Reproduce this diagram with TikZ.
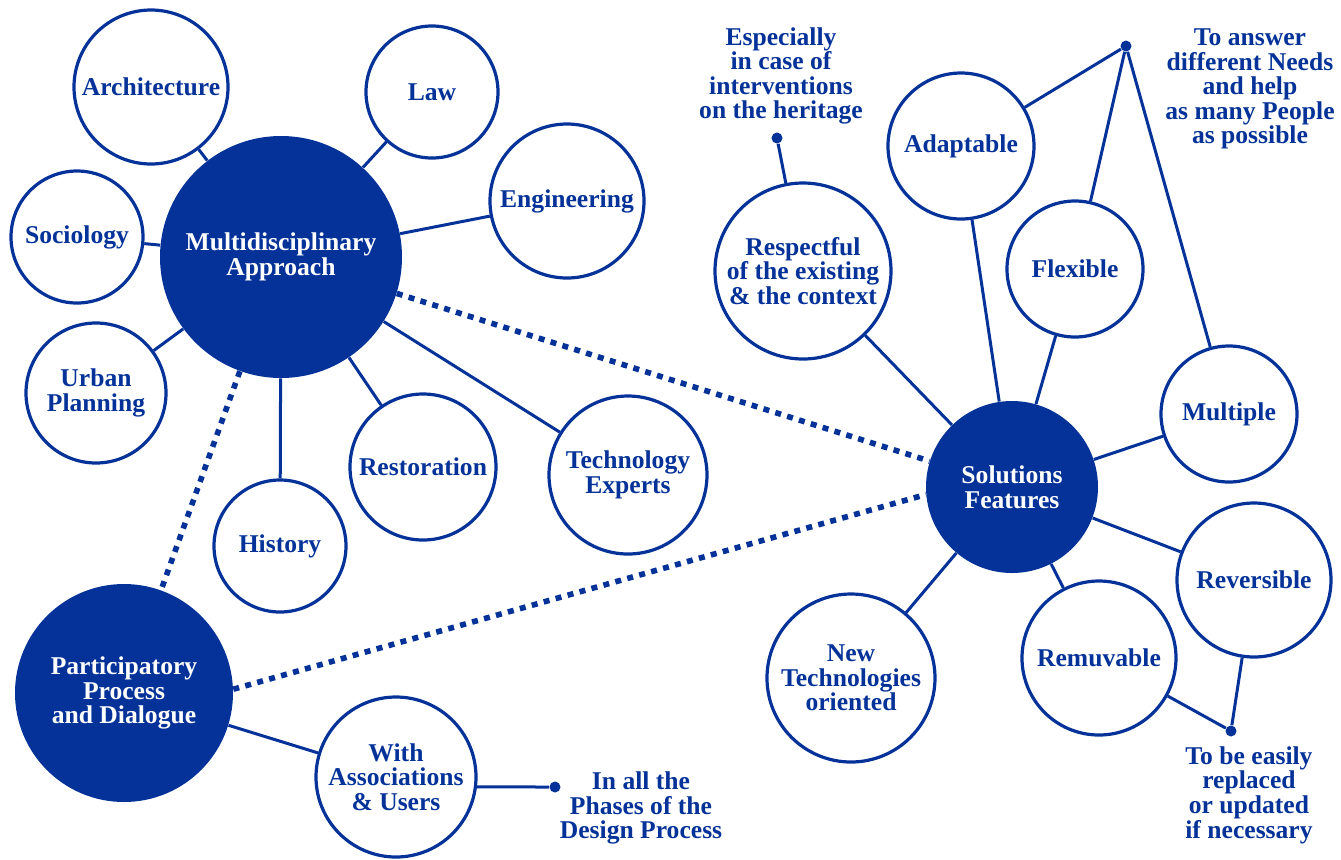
\documentclass[tikz,border=0pt]{standalone}
\usepackage{fontspec}
\setmainfont{Liberation Serif}[BoldFont={Liberation Serif Bold}]
\definecolor{navy}{RGB}{4,50,152}
\begin{document}
\begin{tikzpicture}[x=0.5pt,y=-0.5pt,
  every node/.style={font=\fontsize{12.8}{12.3}\selectfont\bfseries, align=center, text=navy},
  bubble/.style={circle, draw=navy, line width=1.6pt, inner sep=0pt, minimum size=#1},
  core/.style={circle, fill=navy, text=white, inner sep=0pt, minimum size=#1},
  tip/.style={circle, fill=navy, inner sep=0pt, minimum size=5.5pt},
  link/.style={draw=navy, line width=1.5pt},
  dotlink/.style={draw=navy, line width=2.8pt, dash pattern=on 3pt off 3.2pt}
]
\useasboundingbox (0,0) rectangle (1341,859);

% central themes
\node[core=121pt] (multi) at (281,257) {Multidisciplinary\\Approach};
\node[core=109pt] (part)  at (124,693) {Participatory\\Process\\and Dialogue};
\node[core=86pt]  (sol)   at (1012,487) {Solutions\\Features};

% disciplines
\node[bubble=77pt] (arch)  at (151,87)  {Architecture};
\node[bubble=66pt] (law)   at (432,92)  {Law};
\node[bubble=77pt] (eng)   at (567,201) {Engineering};
\node[bubble=66pt] (soc)   at (77,237)  {Sociology};
\node[bubble=70pt] (urban) at (96,393)  {Urban\\Planning};
\node[bubble=66pt] (hist)  at (280,546) {History};
\node[bubble=73pt] (rest)  at (423,467) {Restoration};
\node[bubble=79pt] (tech)  at (628,475) {Technology\\Experts};

% participation
\node[bubble=80pt] (assoc) at (396,777) {With\\Associations\\\& Users};

% solution features
\node[bubble=88pt] (resp)  at (803,271)  {Respectful\\of the existing\\\& the context};
\node[bubble=73pt] (adapt) at (961,146)  {Adaptable};
\node[bubble=68pt] (flex)  at (1075,269) {Flexible};
\node[bubble=68pt] (mult)  at (1229,414) {Multiple};
\node[bubble=77pt] (rev)   at (1254,580) {Reversible};
\node[bubble=77pt] (remu)  at (1099,658) {Remuvable};
\node[bubble=84pt] (newt)  at (851,678)  {New\\Technologies\\oriented};

% annotation points
\node[tip] (dEsp)    at (777,138)  {};
\node[tip] (dNeeds)  at (1126,46)  {};
\node[tip] (dRepl)   at (1231,731) {};
\node[tip] (dPhases) at (555,787)  {};

% annotations
\node (nEsp)    at (781,76)   {Especially\\in case of\\interventions\\on the heritage};
\node (nNeeds)  at (1250,89)  {To answer\\different Needs\\and help\\as many People\\as possible};
\node (nPhases) at (641,808)  {In all the\\Phases of the\\Design Process};
\node (nRepl)   at (1249,795) {To be easily\\replaced\\or updated\\if necessary};

% links to the disciplines
\foreach \n in {arch,law,eng,soc,urban,hist,rest,tech}
  \draw[link] (multi) -- (\n);

% links to the features
\foreach \n in {resp,adapt,flex,mult,rev,remu,newt}
  \draw[link] (sol) -- (\n);

\draw[link] (part) -- (assoc);
\draw[link] (assoc.-7) -- (dPhases);
\draw[link] (dEsp) -- (resp);
\draw[link] (dNeeds) -- (adapt);
\draw[link] (dNeeds) -- (flex);
\draw[link] (dNeeds) -- (mult);
\draw[link] (dRepl) -- (remu);
\draw[link] (dRepl) -- (rev);

% dotted relations between the themes
\draw[dotlink] (multi) -- (part);
\draw[dotlink] (multi) -- (sol);
\draw[dotlink] (part.2.6) -- (sol.185.3);
\end{tikzpicture}
\end{document}
